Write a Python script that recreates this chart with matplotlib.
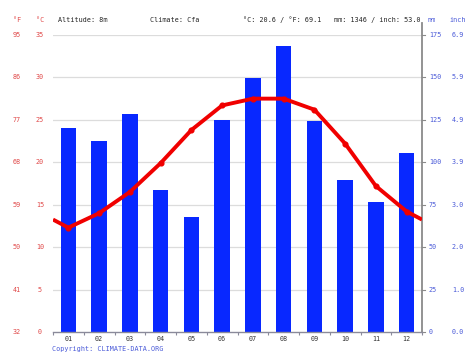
import matplotlib
matplotlib.use("Agg")
import matplotlib.pyplot as plt
import numpy as np

months = ["01", "02", "03", "04", "05", "06", "07", "08", "09", "10", "11", "12"]
precip_mm = [120, 112.5, 128.5, 83.5, 67.5, 125, 149.5, 168.5, 124.5, 89.5, 76.5, 105.5]
temp_c = [12.3, 14.0, 16.5, 19.9, 23.8, 26.7, 27.5, 27.5, 26.2, 22.2, 17.2, 14.2]
c_ticks = [0, 5, 10, 15, 20, 25, 30, 35]
f_ticks = [32, 41, 50, 59, 68, 77, 86, 95]
mm_ticks = [0, 25, 50, 75, 100, 125, 150, 175]
inch_ticks = ["0.0", "1.0", "2.0", "3.0", "3.9", "4.9", "5.9", "6.9"]
header = ["Altitude: 8m", "Climate: Cfa", "°C: 20.6 / °F: 69.1", "mm: 1346 / inch: 53.0"]

RED = "#f00000"
TRED = "#e04848"
TBLUE = "#4a5ad8"
BAR = "#0828ff"
FONT = "DejaVu Sans Mono"
FS = 4.9

fig = plt.figure(figsize=(4.74, 3.55), dpi=100)
ax = fig.add_axes([53/474, 1-332/355, (422-53)/474, (332-35)/355])
ax2 = ax.twinx()

x = np.arange(12)
ax2.bar(x, precip_mm, width=0.5, color=BAR, zorder=2)
ax2.set_ylim(0, 175)
ax.set_ylim(0, 35)
ax.set_xlim(-0.5, 11.5)

# temperature line on top
ax.set_zorder(ax2.get_zorder() + 1)
ax.patch.set_visible(False)
edge = (temp_c[0] + temp_c[-1]) / 2
lx = np.concatenate([[-0.5], x, [11.5]])
ly = np.concatenate([[edge], temp_c, [edge]])
ax.plot(lx, ly, color=RED, lw=2.8, solid_capstyle="butt", zorder=5)
ax.plot(x, temp_c, "o", color=RED, ms=3.4, zorder=6)

# grid
for c in c_ticks[1:]:
    ax2.axhline(c * 5, color="#dcdcdc", lw=0.9, zorder=1)

for a in (ax, ax2):
    for s in a.spines.values():
        s.set_visible(False)
    a.set_yticks([])

ax.spines["bottom"].set_visible(True)
ax.spines["bottom"].set_color("#8a8a9a")
ax.spines["bottom"].set_linewidth(1.0)
ax.set_xticks(np.arange(-0.5, 12, 1))
ax.set_xticklabels([])
ax.tick_params(axis="x", length=2, width=0.8, color="#8a8a9a")
for i, m in enumerate(months):
    ax.text(i, -0.012, m, transform=ax.get_xaxis_transform(), ha="center", va="top",
            fontsize=FS, family=FONT, color="#333333")

# right spine
ax2.plot([1, 1], [0, 1.04], transform=ax2.transAxes, color="#8a8a8a", lw=1.3,
         clip_on=False, zorder=3)
for v in mm_ticks:
    ax2.plot([1, 1.007], [v, v], transform=ax2.get_yaxis_transform(), color="#8a8a8a",
             lw=0.8, clip_on=False)

# tick labels
tr_left = ax.get_yaxis_transform()
for c, f in zip(c_ticks, f_ticks):
    ax.text(-13/369, c, str(c), transform=tr_left, ha="center", va="center",
            fontsize=FS, family=FONT, color=TRED)
    ax.text(-36/369, c, str(f), transform=tr_left, ha="center", va="center",
            fontsize=FS, family=FONT, color=TRED)
tr_right = ax2.get_yaxis_transform()
for v, inch in zip(mm_ticks, inch_ticks):
    ax2.text(1 + 7/369, v, str(v), transform=tr_right, ha="left", va="center",
             fontsize=FS, family=FONT, color=TBLUE)
    ax2.text(1 + 30/369, v, inch, transform=tr_right, ha="left", va="center",
             fontsize=FS, family=FONT, color=TBLUE)

# header
hy = 1 - 20/355
fig.text(17/474, hy, "°F", ha="center", va="center", fontsize=FS, family=FONT, color=TRED)
fig.text(40/474, hy, "°C", ha="center", va="center", fontsize=FS, family=FONT, color=TRED)
for xpos, t in zip([58, 150, 243, 334], header):
    fig.text(xpos/474, hy, t, ha="left", va="center", fontsize=FS, family=FONT, color="#222222")
fig.text(432/474, hy, "mm", ha="center", va="center", fontsize=FS, family=FONT, color=TBLUE)
fig.text(458/474, hy, "inch", ha="center", va="center", fontsize=FS, family=FONT, color=TBLUE)

fig.text(52/474, 1 - 349/355, "Copyright: CLIMATE-DATA.ORG", ha="left", va="center",
         fontsize=FS, family=FONT, color=TBLUE)

fig.savefig("out.png", dpi=100)
